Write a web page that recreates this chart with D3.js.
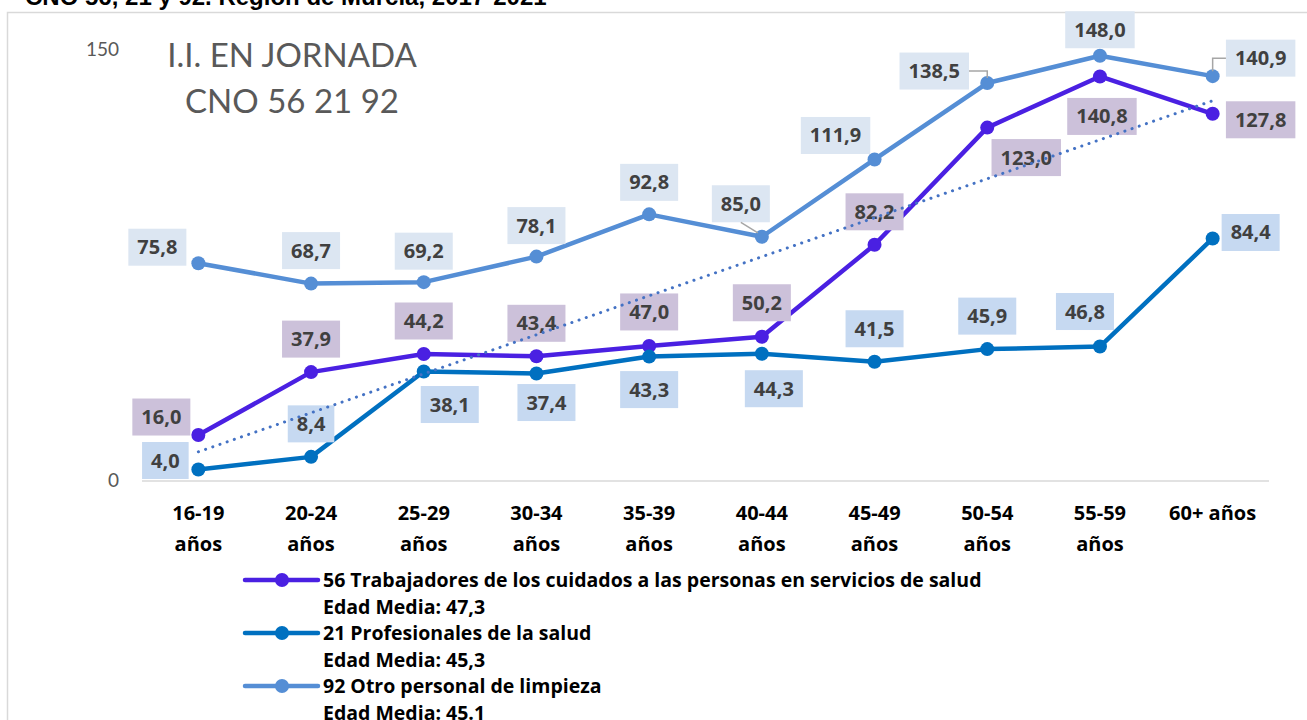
<!DOCTYPE html>
<html lang="es">
<head>
  <meta charset="UTF-8">
  <title>I.I. en jornada CNO 56 21 92</title>
  <script src="https://d3js.org/d3.v7.min.js"></script>
  <style>
    body {
      margin: 0;
      padding: 0;
      background: #fff;
    }
    #chart {
      width: 1307px;
      height: 720px;
      overflow: hidden;
    }
    text {
      font-family: Lato, "Noto Sans", sans-serif;
    }
    .bold {
      font-family: "Open Sans", "Noto Sans", sans-serif;
      font-weight: bold;
    }
  </style>
</head>
<body>
  <div id="chart"></div>
</body>
<script>
  // categorias (eje x)
  const ageGroups = ['16-19 años', '20-24 años', '25-29 años', '30-34 años', '35-39 años',
    '40-44 años', '45-49 años', '50-54 años', '55-59 años', '60+ años']

  // valores I.I. en jornada por grupo de edad
  const cno56 = [16.0, 37.9, 44.2, 43.4, 47.0, 50.2, 82.2, 123.0, 140.8, 127.8]
  const cno21 = [4.0, 8.4, 38.1, 37.4, 43.3, 44.3, 41.5, 45.9, 46.8, 84.4]
  const cno92 = [75.8, 68.7, 69.2, 78.1, 92.8, 85.0, 111.9, 138.5, 148.0, 140.9]

  const seriesNames = [
    '56 Trabajadores de los cuidados a las personas en servicios de salud',
    '21 Profesionales de la salud',
    '92 Otro personal de limpieza'
  ]
  const mediaEdad = ['47,3', '45,3', '45.1']
  const yTicks = [0, 150]

  const colors = ['#4a20e2', '#0070c0', '#558ed5']
  const labelFill = ['#ccc1da', '#c6d9f1', '#dce6f2']

  // desplazamiento de las etiquetas respecto al punto (dx, dy, linea guia)
  const labelPos = [
    [[-37, -18], [0, -33], [0, -33], [0, -33], [0, -34], [0, -34], [0, -33], [39, 30], [2, 40], [48, 6]],
    [[-33, -9], [0, -33], [26, 33], [10, 29], [0, 33], [12, 35], [0, -33], [0, -33], [-15, -35], [38, -6]],
    [[-41, -16], [0, -33], [0, -31], [0, -31], [0, -32], [-21, -33, 1], [-39, -24], [-53, -12, 1], [0, -26], [48, -18, 1]]
  ]

  const W = 1307, H = 720
  const svg = d3.select('#chart').append('svg')
    .attr('width', W)
    .attr('height', H)

  // titulo superior (recortado)
  svg.append('text')
    .attr('x', 25).attr('y', 5)
    .style('font-family', '"Liberation Sans", Arial, sans-serif')
    .style('font-weight', 'bold')
    .style('font-size', '24px')
    .text('CNO 56, 21 y 92. Región de Murcia, 2017-2021')

  svg.append('rect')
    .attr('x', 7.5).attr('y', 12.5)
    .attr('width', W).attr('height', H)
    .attr('fill', '#fff')
    .attr('stroke', '#d9d9d9')
    .attr('stroke-width', 1.5)

  const x = d3.scalePoint().domain(ageGroups).range([142, 1269]).padding(0.5)
  const y = d3.scaleLinear().domain([0, 150]).range([481, 50])

  // eje x
  svg.append('line')
    .attr('x1', 142).attr('x2', 1269)
    .attr('y1', y(0)).attr('y2', y(0))
    .attr('stroke', '#d9d9d9').attr('stroke-width', 1.5)

  const xl = svg.append('g').selectAll('text')
    .data(ageGroups)
    .join('text')
    .attr('class', 'bold')
    .attr('x', d => x(d))
    .attr('y', 520)
    .attr('text-anchor', 'middle')
    .style('font-size', '20px')
    .attr('fill', '#000')
  xl.each(function(d) {
    const parts = d === '60+ años' ? [d] : d.split(' ')
    d3.select(this).selectAll('tspan')
      .data(parts)
      .join('tspan')
      .attr('x', x(d))
      .attr('dy', (p, i) => i ? 31 : 0)
      .text(p => p)
  })

  // eje y (solo 0 y 150)
  svg.append('g').selectAll('text')
    .data(yTicks)
    .join('text')
    .attr('x', 119)
    .attr('y', d => y(d) + 6)
    .attr('text-anchor', 'end')
    .style('font-size', '19px')
    .attr('fill', '#595959')
    .text(d => d)

  // titulo interior
  svg.append('text')
    .attr('x', 292).attr('y', 67)
    .attr('text-anchor', 'middle')
    .style('font-size', '33px')
    .attr('fill', '#595959')
    .text('I.I. EN JORNADA')
  svg.append('text')
    .attr('x', 292).attr('y', 113)
    .attr('text-anchor', 'middle')
    .style('font-size', '33px')
    .attr('fill', '#595959')
    .text('CNO 56 21 92')

  const allSeries = [cno56, cno21, cno92]
  const line = d3.line()
    .x((d, i) => x(ageGroups[i]))
    .y(d => y(d))

  allSeries.forEach((vals, s) => {
    svg.append('path')
      .datum(vals)
      .attr('d', line)
      .attr('fill', 'none')
      .attr('stroke', colors[s])
      .attr('stroke-width', 4.5)
      .attr('stroke-linejoin', 'round')
    svg.append('g').selectAll('circle')
      .data(vals)
      .join('circle')
      .attr('cx', (d, i) => x(ageGroups[i]))
      .attr('cy', d => y(d))
      .attr('r', 7)
      .attr('fill', colors[s])
  })

  // etiquetas de datos
  const fmt = v => d3.format('.1f')(v).replace('.', ',')
  allSeries.forEach((vals, s) => {
    vals.forEach((v, i) => {
      const px = x(ageGroups[i]), py = y(v)
      const [dx, dy, guide] = labelPos[s][i]
      const cx = px + dx, cy = py + dy
      const g = svg.append('g')
      const t = g.append('text')
        .attr('class', 'bold')
        .attr('x', cx).attr('y', cy + 7)
        .attr('text-anchor', 'middle')
        .style('font-size', '20px')
        .attr('fill', '#404040')
        .text(fmt(v))
      const bw = t.node().getComputedTextLength() + 18
      const bh = 37
      g.insert('rect', 'text')
        .attr('x', cx - bw / 2).attr('y', cy - bh / 2)
        .attr('width', bw).attr('height', bh)
        .attr('fill', labelFill[s])
      if (guide) {
        let pts
        if (px > cx - bw / 2 && px < cx + bw / 2) {
          pts = [[cx, cy + bh / 2], [px - 4, py - 4]]
        } else {
          const ex = px < cx ? cx - bw / 2 : cx + bw / 2
          pts = [[ex, cy], [px, cy], [px, py - 5]]
        }
        svg.append('path')
          .attr('d', d3.line()(pts))
          .attr('fill', 'none')
          .attr('stroke', '#a6a6a6')
          .attr('stroke-width', 1.5)
      }
    })
  })

  // linea de tendencia lineal (serie 56)
  const n = cno56.length
  const xs = d3.range(n)
  const mx = d3.mean(xs), my = d3.mean(cno56)
  const slope = d3.sum(xs, i => (i - mx) * (cno56[i] - my)) / d3.sum(xs, i => (i - mx) ** 2)
  const icpt = my - slope * mx
  svg.append('line')
    .attr('x1', x(ageGroups[0])).attr('y1', y(icpt))
    .attr('x2', x(ageGroups[n - 1])).attr('y2', y(icpt + slope * (n - 1)))
    .attr('stroke', '#4472c4')
    .attr('stroke-width', 3)
    .attr('stroke-linecap', 'round')
    .attr('stroke-dasharray', '0.1 7.5')

  // leyenda
  const legY = [580, 633, 686]
  const leg = svg.append('g')
  seriesNames.forEach((name, s) => {
    const ly = legY[s]
    leg.append('line')
      .attr('x1', 245).attr('x2', 318)
      .attr('y1', ly).attr('y2', ly)
      .attr('stroke', colors[s]).attr('stroke-width', 4.5)
      .attr('stroke-linecap', 'round')
    leg.append('circle')
      .attr('cx', 282).attr('cy', ly).attr('r', 7)
      .attr('fill', colors[s])
    leg.append('text')
      .attr('class', 'bold')
      .attr('x', 323).attr('y', ly + 7)
      .style('font-size', '19.5px')
      .text(name)
    leg.append('text')
      .attr('class', 'bold')
      .attr('x', 323).attr('y', ly + 34)
      .style('font-size', '19.5px')
      .text('Edad Media: ' + mediaEdad[s])
  })
</script>
</html>
